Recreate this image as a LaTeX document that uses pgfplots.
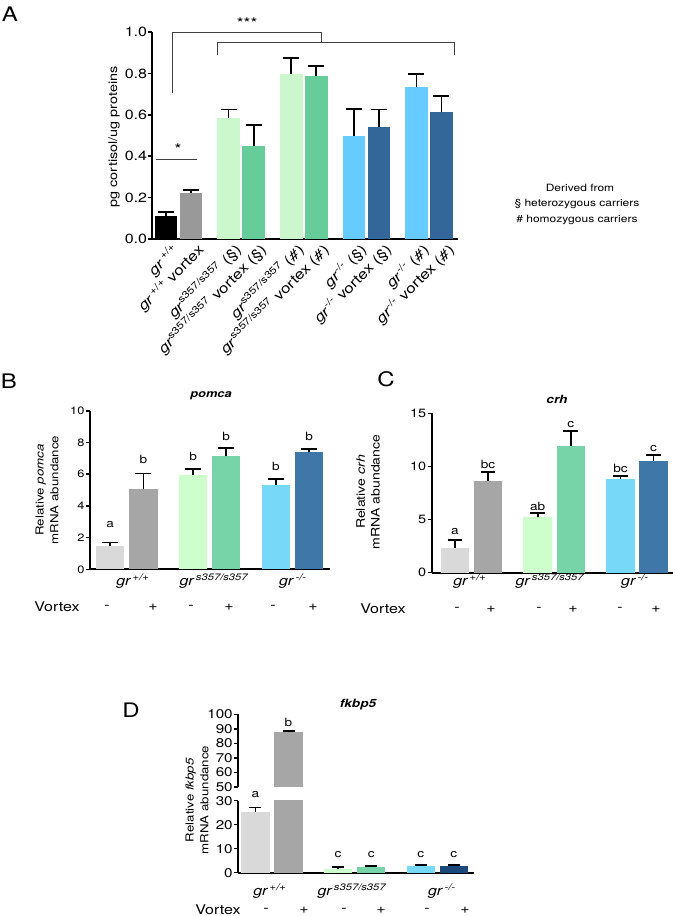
\documentclass[border=0pt]{standalone}
\usepackage{fontspec}
\setmainfont[FakeStretch=1.2]{TeX Gyre Heros}
\usepackage{pgfplots}
\pgfplotsset{compat=1.18}
\newcommand\fs[2]{\fontsize{#1}{#2}\selectfont}
\definecolor{Agry}{HTML}{999999}
\definecolor{Algr}{HTML}{CCF7CC}
\definecolor{Agrn}{HTML}{66CC99}
\definecolor{Albl}{HTML}{66CCFF}
\definecolor{Adbl}{HTML}{336699}
\definecolor{Blgy}{HTML}{D9D9D9}
\definecolor{Bgry}{HTML}{A6A6A6}
\definecolor{Blgr}{HTML}{CCFFCC}
\definecolor{Bgrn}{HTML}{77D4A8}
\definecolor{Blbl}{HTML}{77D8F8}
\definecolor{Bdbl}{HTML}{3F78A8}
\definecolor{Dnavy}{HTML}{1B4A7A}
\pgfplotsset{
  panel/.style={scale only axis, axis lines*=left, axis line style={line width=1.3pt,-},
    tick align=outside, major tick length=3pt, tick style={line width=1.1pt,black},
    xtick=\empty, clip mode=individual, /pgf/number format/assume math mode=true,
    yticklabel style={inner sep=1pt}},
  mybar/.style 2 args={ybar, bar shift=0pt, bar width=#1, draw=none,
    error bars/.cd, y dir=plus, y explicit,
    error bar style={line width=1.3pt,black,solid},
    error mark options={rotate=90,line width=1.3pt,black,mark size=#2}},
}
\begin{document}
\begin{tikzpicture}
\path[use as bounding box] (0,0) rectangle (506.25pt,687pt);
% ---------------- Panel A
\begin{axis}[panel, at={(114pt,507.75pt)}, anchor=south west, width=229.5pt, height=155.25pt,
  xmin=-0.56, xmax=11.66, ymin=0, ymax=1, clip=false,
  axis line style={line width=1.5pt,-},
  ytick={0,0.2,0.4,0.6,0.8,1.0},
  yticklabel style={font=\fs{10}{12}, inner sep=0.5pt, /pgf/number format/fixed, /pgf/number format/fixed zerofill, /pgf/number format/precision=1}]
\addplot[fill=black, mybar={0.9}{6pt}] coordinates {(0,0.111) +- (0,0.018)};
\addplot[fill=Agry, mybar={0.9}{6pt}] coordinates {(1,0.224) +- (0,0.011)};
\addplot[fill=Algr, mybar={0.9}{6pt}] coordinates {(2.5,0.586) +- (0,0.039)};
\addplot[fill=Agrn, mybar={0.9}{6pt}] coordinates {(3.5,0.451) +- (0,0.101)};
\addplot[fill=Algr, mybar={0.9}{6pt}] coordinates {(5,0.797) +- (0,0.077)};
\addplot[fill=Agrn, mybar={0.9}{6pt}] coordinates {(6,0.787) +- (0,0.049)};
\addplot[fill=Albl, mybar={0.9}{6pt}] coordinates {(7.5,0.498) +- (0,0.130)};
\addplot[fill=Adbl, mybar={0.9}{6pt}] coordinates {(8.5,0.541) +- (0,0.084)};
\addplot[fill=Albl, mybar={0.9}{6pt}] coordinates {(10,0.734) +- (0,0.063)};
\addplot[fill=Adbl, mybar={0.9}{6pt}] coordinates {(11,0.612) +- (0,0.080)};
\draw[line width=0.7pt, black!75] (axis cs:0.24,0.705) |- (axis cs:6.2,1.0) -- (axis cs:6.2,0.947);
\draw[line width=0.7pt, black!75] (axis cs:2.04,0.889) |- (axis cs:11.52,0.947) -- (axis cs:11.52,0.889);
\draw[line width=0.7pt, black!75] (axis cs:-0.4,0.386) -- (axis cs:1.24,0.386);
\node[font=\fs{11}{12}] at (axis cs:3.24,1.045) {***};
\node[font=\fs{11}{12}] at (axis cs:0.48,0.435) {*};
\tikzset{xl/.style={rotate=45, anchor=east, font=\fs{10.5}{12}, inner sep=0pt, yshift=-10pt, xshift=1pt}}
\node[xl] at (axis cs:0,0) {\textit{gr}\,\textsuperscript{+/+}};
\node[xl] at (axis cs:1,0) {\textit{gr}\,\textsuperscript{+/+} vortex};
\node[xl] at (axis cs:2.5,0) {\textit{gr}\textsuperscript{s357/s357} (§)};
\node[xl] at (axis cs:3.5,0) {\textit{gr}\textsuperscript{s357/s357} vortex (§)};
\node[xl] at (axis cs:5,0) {\textit{gr}\textsuperscript{s357/s357} (\textit{\#})};
\node[xl] at (axis cs:6,0) {\textit{gr}\textsuperscript{s357/s357} vortex (\textit{\#})};
\node[xl] at (axis cs:7.5,0) {\textit{gr}\textsuperscript{-/-} (§)};
\node[xl] at (axis cs:8.5,0) {\textit{gr}\textsuperscript{-/-} vortex (§)};
\node[xl] at (axis cs:10,0) {\textit{gr}\textsuperscript{-/-} (\textit{\#})};
\node[xl] at (axis cs:11,0) {\textit{gr}\textsuperscript{-/-} vortex (\textit{\#})};
\end{axis}
% ---------------- Panel B
\begin{axis}[panel, at={(67.5pt,260pt)}, anchor=south west, width=180pt, height=118.9pt,
  xmin=-0.61, xmax=6.63, ymin=0, ymax=10, ytick={0,2,4,6,8,10},
  yticklabel style={font=\fs{8}{9}}]
\addplot[fill=Blgy, mybar={0.86}{6pt}] coordinates {(0,1.47) +- (0,0.23)};
\addplot[fill=Bgry, mybar={0.86}{6pt}] coordinates {(1,5.04) +- (0,1.01)};
\addplot[fill=Blgr, mybar={0.86}{6pt}] coordinates {(2.5,5.98) +- (0,0.36)};
\addplot[fill=Bgrn, mybar={0.86}{6pt}] coordinates {(3.5,7.12) +- (0,0.54)};
\addplot[fill=Blbl, mybar={0.86}{6pt}] coordinates {(5,5.29) +- (0,0.42)};
\addplot[fill=Bdbl, mybar={0.86}{6pt}] coordinates {(6,7.43) +- (0,0.17)};
\tikzset{lt/.style={font=\fs{8.5}{10}}}
\node[lt] at (axis cs:0,2.8) {a};
\node[lt] at (axis cs:1,6.95) {b};
\node[lt] at (axis cs:2.5,7.1) {b};
\node[lt] at (axis cs:3.5,8.4) {b};
\node[lt] at (axis cs:5,6.5) {b};
\node[lt] at (axis cs:6,8.4) {b};
\end{axis}
% ---------------- Panel C
\begin{axis}[panel, at={(323.8pt,257.5pt)}, anchor=south west, width=181pt, height=119.5pt,
  xmin=-0.70, xmax=6.59, ymin=0, ymax=15, ytick={0,5,10,15},
  yticklabel style={font=\fs{9}{10}}]
\addplot[fill=Blgy, mybar={0.86}{5.5pt}] coordinates {(0,2.35) +- (0,0.73)};
\addplot[fill=Bgry, mybar={0.86}{5.5pt}] coordinates {(1,8.66) +- (0,0.82)};
\addplot[fill=Blgr, mybar={0.86}{5.5pt}] coordinates {(2.5,5.21) +- (0,0.44)};
\addplot[fill=Bgrn, mybar={0.86}{5.5pt}] coordinates {(3.5,11.96) +- (0,1.38)};
\addplot[fill=Blbl, mybar={0.86}{5.5pt}] coordinates {(5,8.85) +- (0,0.28)};
\addplot[fill=Bdbl, mybar={0.86}{5.5pt}] coordinates {(6,10.49) +- (0,0.56)};
\tikzset{lt/.style={font=\fs{8.5}{10}}}
\node[lt] at (axis cs:0,3.86) {a};
\node[lt] at (axis cs:1,10.14) {bc};
\node[lt] at (axis cs:2.5,6.2) {ab};
\node[lt] at (axis cs:3.5,13.9) {c};
\node[lt] at (axis cs:5,9.83) {bc};
\node[lt] at (axis cs:6,11.7) {c};
\end{axis}
% ---------------- Panel D (upper segment)
\begin{axis}[panel, axis x line=none, at={(178.7pt,96.9pt)}, anchor=south west, width=176.8pt, height=54.3pt,
  xmin=-0.52, xmax=6.61, ymin=50, ymax=100, ytick={50,60,70,80,90,100},
  yticklabel style={font=\fs{9.5}{10}}]
\addplot[fill=Bgry, mybar={0.86}{4.5pt}] coordinates {(1,87.8) +- (0,0.7)};
\node[font=\fs{8.5}{10}] at (axis cs:1,94.5) {b};
\end{axis}
% ---------------- Panel D (lower segment)
\begin{axis}[panel, at={(178.7pt,32.5pt)}, anchor=south west, width=176.8pt, height=54pt,
  xmin=-0.52, xmax=6.61, ymin=0, ymax=30, ytick={0,10,20,30},
  yticklabel style={font=\fs{9.5}{10}}]
\addplot[fill=Blgy, mybar={0.86}{4.5pt}] coordinates {(0,25.4) +- (0,1.7)};
\addplot[fill=Bgry, mybar={0.86}{4.5pt}] coordinates {(1,87.8) +- (0,0.7)};
\addplot[fill=Blgr, mybar={0.86}{4.5pt}] coordinates {(2.5,1.7) +- (0,0.55)};
\addplot[fill=Bgrn, mybar={0.86}{4.5pt}] coordinates {(3.5,2.5) +- (0,0.3)};
\addplot[fill=Blbl, mybar={0.86}{4.5pt}] coordinates {(5,2.8) +- (0,0.5)};
\addplot[fill=Dnavy, mybar={0.86}{4.5pt}] coordinates {(6,2.8) +- (0,0.5)};
\tikzset{lt/.style={font=\fs{8.5}{10}}}
\node[lt] at (axis cs:0,32.4) {a};
\node[lt] at (axis cs:2.5,7.4) {c};
\node[lt] at (axis cs:3.5,7.4) {c};
\node[lt] at (axis cs:5,7.4) {c};
\node[lt] at (axis cs:6,7.4) {c};
\end{axis}
% ---------------- free text (pixel coordinates of the reference)
\begin{scope}[x=0.75pt, y=-0.75pt, shift={(0pt,687pt)}]
\tikzset{pl/.style={font=\fs{15}{17}}, gl/.style={font=\fs{10}{12}}, yl/.style={rotate=90, align=center}}
\node[pl] at (10,14) {A};
\node[pl] at (9,381) {B};
\node[pl] at (386,379) {C};
\node[pl] at (131,710) {D};
% A
\node[yl, font=\fs{9}{11}] at (114,137) {pg cortisol/ug proteins};
\node[font=\fs{7.5}{9}] at (580,188) {Derived from};
\node[font=\fs{7.5}{9}] at (577,204) {§ heterozygous carriers};
\node[font=\fs{7.5}{9}] at (577,220) {\# homozygous carriers};
% B
\node[font=\fs{8}{9.6}\bfseries\itshape] at (211,396) {pomca};
\node[yl, font=\fs{8.3}{11}] at (47,490) {Relative \textit{pomca}\\mRNA abundance};
\node[gl] at (133,581) {\textit{gr\,\textsuperscript{+/+}}};
\node[gl] at (214,581) {\textit{gr\,\textsuperscript{s357/s357}}};
\node[gl] at (293,581) {\textit{gr\,\textsuperscript{-/-}}};
\node[gl] at (57,607) {Vortex};
\node[gl] at (107,607) {-}; \node[gl] at (153,607) {+};
\node[gl] at (191,607) {-}; \node[gl] at (229,607) {+};
\node[gl] at (273,607) {-}; \node[gl] at (313,607) {+};
% C
\node[font=\fs{8.5}{10}\bfseries\itshape] at (557,399) {crh};
\node[yl, font=\fs{8.8}{11}] at (368,492) {Relative \textit{crh}\\mRNA abundance};
\node[gl] at (470,581) {\textit{gr\,\textsuperscript{+/+}}};
\node[gl] at (550,581) {\textit{gr\,\textsuperscript{s357/s357}}};
\node[gl] at (635,581) {\textit{gr\,\textsuperscript{-/-}}};
\node[gl] at (383,609) {Vortex};
\node[gl] at (457,609) {-}; \node[gl] at (491,609) {+};
\node[gl] at (539,609) {-}; \node[gl] at (573,609) {+};
\node[gl] at (620,609) {-}; \node[gl] at (656,609) {+};
% D
\node[font=\fs{8.5}{10}\bfseries\itshape] at (358,705) {fkbp5};
\node[yl, font=\fs{8.3}{11}] at (197,800) {Relative \textit{fkbp5}\\mRNA abundance};
\node[gl] at (270,891) {\textit{gr\,\textsuperscript{+/+}}};
\node[gl] at (352,891) {\textit{gr\,\textsuperscript{s357/s357}}};
\node[gl] at (442,891) {\textit{gr\,\textsuperscript{-/-}}};
\node[gl] at (218,910) {Vortex};
\node[gl] at (266,910) {-}; \node[gl] at (304,910) {+};
\node[gl] at (344,910) {-}; \node[gl] at (381,910) {+};
\node[gl] at (427,910) {-}; \node[gl] at (465,910) {+};
\end{scope}
\end{tikzpicture}
\end{document}
